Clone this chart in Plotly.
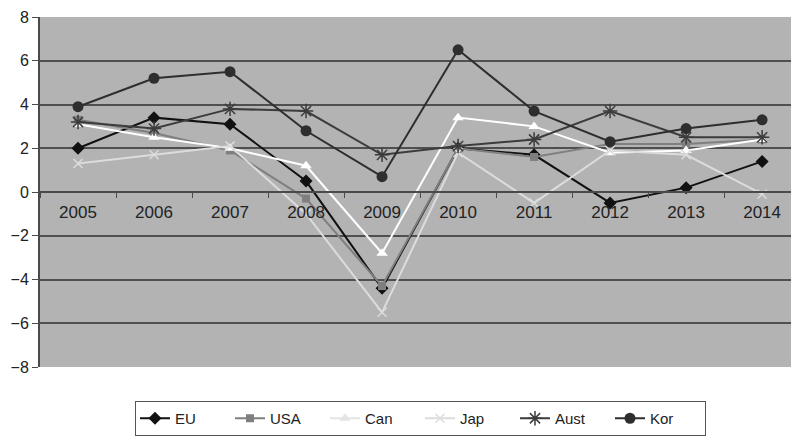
import plotly.graph_objects as go

years = ["2005", "2006", "2007", "2008", "2009", "2010", "2011", "2012", "2013", "2014"]

eu = [2.0, 3.4, 3.1, 0.5, -4.4, 2.0, 1.7, -0.5, 0.2, 1.4]
usa = [3.3, 2.7, 1.9, -0.3, -4.3, 2.0, 1.6, 2.2, 2.2, 2.4]
can = [3.1, 2.5, 2.0, 1.2, -2.8, 3.4, 3.0, 1.8, 1.9, 2.4]
jap = [1.3, 1.7, 2.1, -1.0, -5.5, 1.8, -0.5, 1.9, 1.7, -0.1]
aust = [3.2, 2.9, 3.8, 3.7, 1.7, 2.1, 2.4, 3.7, 2.5, 2.5]
kor = [3.9, 5.2, 5.5, 2.8, 0.7, 6.5, 3.7, 2.3, 2.9, 3.3]

y_ticks = [-8, -6, -4, -2, 0, 2, 4, 6, 8]

# name, values, line colour, marker, legend colour (white lines get a faint grey key)
series = [
    ("EU", eu, "#111111", dict(symbol="diamond", size=10, color="#111111"), None),
    ("USA", usa, "#7f7f7f", dict(symbol="square", size=8, color="#7f7f7f"), None),
    ("Can", can, "#ffffff", dict(symbol="triangle-up", size=10, color="#ffffff"), "#e4e4e4"),
    ("Jap", jap, "#dcdcdc", dict(symbol="x-thin-open", size=9, color="#dcdcdc",
                                  line=dict(width=1.5, color="#dcdcdc")), None),
    ("Aust", aust, "#3c3c3c", dict(symbol="asterisk-open", size=12, color="#3c3c3c",
                                    line=dict(width=1.5, color="#3c3c3c")), None),
    ("Kor", kor, "#2e2e2e", dict(symbol="circle", size=11, color="#2e2e2e"), None),
]

fig = go.Figure()
for rank, (name, vals, col, marker, key_col) in enumerate(series):
    fig.add_trace(go.Scatter(
        x=years, y=vals, name=name, mode="lines+markers",
        line=dict(color=col, width=2),
        marker=marker,
        legendgroup=name, legendrank=rank,
        showlegend=key_col is None,
    ))
    if key_col is not None:
        key_marker = dict(marker)
        key_marker["color"] = key_col
        fig.add_trace(go.Scatter(
            x=[None], y=[None], name=name, mode="lines+markers",
            line=dict(color=key_col, width=2),
            marker=key_marker,
            legendgroup=name, legendrank=rank,
        ))

fig.update_layout(
    width=791, height=438,
    margin=dict(l=40, r=0, t=17, b=71),
    paper_bgcolor="#ffffff",
    plot_bgcolor="#b3b3b3",
    font=dict(family="Liberation Sans, Arial, sans-serif", color="#222222"),
    showlegend=True,
    legend=dict(
        orientation="h",
        x=95 / 751, xanchor="left",
        y=-34 / 350, yanchor="top",
        bordercolor="#555555", borderwidth=1,
        bgcolor="#ffffff",
        font=dict(size=15, color="#222222"),
        entrywidth=50, entrywidthmode="pixels",
    ),
    xaxis=dict(
        type="category",
        range=[-0.5, 9.38],
        anchor="free", position=0.5,
        showgrid=False,
        showline=True, linecolor="#4a4a4a", linewidth=2,
        ticks="outside", tickson="boundaries", ticklen=5,
        tickcolor="#4a4a4a", tickwidth=1,
        ticklabelstandoff=5,
        tickfont=dict(size=17, color="#222222"),
        zeroline=False,
    ),
    yaxis=dict(
        range=[-8, 8],
        tickvals=y_ticks,
        showgrid=True, gridcolor="#4f4f4f", gridwidth=2,
        showline=True, linecolor="#4a4a4a", linewidth=2,
        ticks="outside", ticklen=6, tickcolor="#4a4a4a",
        tickfont=dict(size=16, color="#222222"),
        zeroline=False,
    ),
)

fig.write_html("out.html")
